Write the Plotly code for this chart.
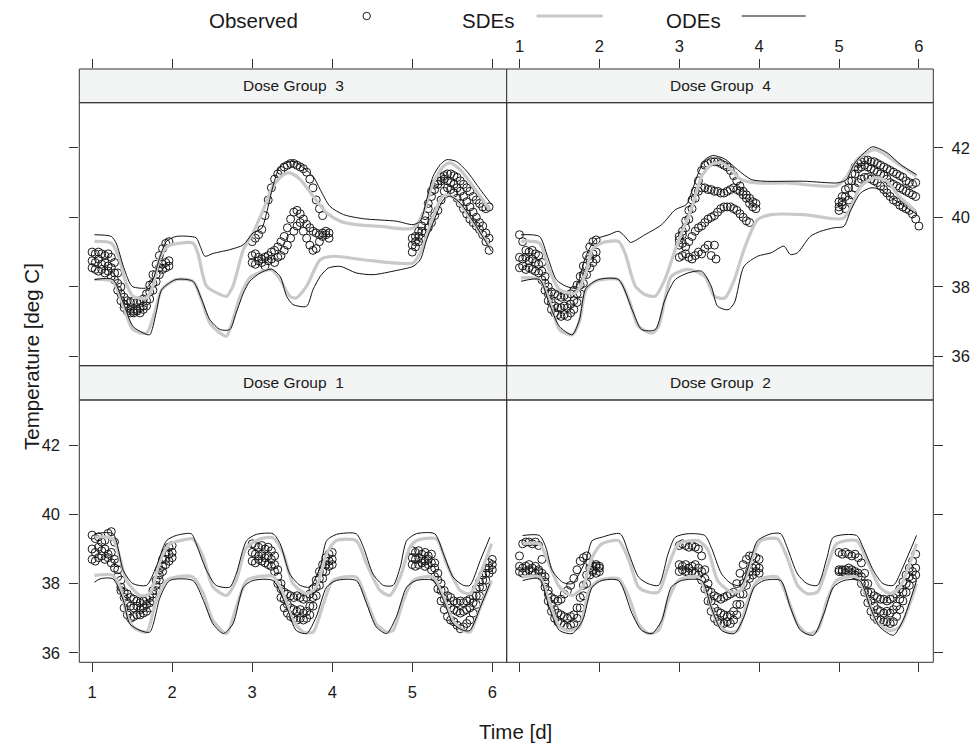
import plotly.graph_objects as go

# ---------------- data ----------------
OBS_TIME = [1.00, 1.04, 1.08, 1.12, 1.16, 1.20, 1.24, 1.28, 1.32, 1.36, 1.40, 1.44, 1.48,
            1.52, 1.56, 1.60, 1.64, 1.68, 1.72, 1.76, 1.80, 1.84, 1.88, 1.92, 1.96, 2.00,
            3.00, 3.04, 3.08, 3.12, 3.16, 3.20, 3.24, 3.28, 3.32, 3.36, 3.40, 3.44, 3.48,
            3.52, 3.56, 3.60, 3.64, 3.68, 3.72, 3.76, 3.80, 3.84, 3.88, 3.92, 3.96, 4.00,
            5.00, 5.04, 5.08, 5.12, 5.16, 5.20, 5.24, 5.28, 5.32, 5.36, 5.40, 5.44, 5.48,
            5.52, 5.56, 5.60, 5.64, 5.68, 5.72, 5.76, 5.80, 5.84, 5.88, 5.92, 5.96, 6.00]

# Dose Group 1 observed (three animals)
G1_OBS_A = [39.40, 39.30, 39.35, 39.20, 39.25, 39.45, 39.50, 39.20, 38.60, 38.10, 37.75, 37.70, 37.60,
            37.55, 37.50, 37.45, 37.50, 37.55, 37.60, 37.80, 38.10, 38.40, 38.70, 38.90, 39.05, 39.10,
            39.15, 39.10, 39.05, 39.10, 39.00, 39.05, 38.95, 38.80, 38.40, 38.00, 37.75, 37.70, 37.65,
            37.60, 37.65, 37.60, 37.55, 37.60, 37.70, 37.85, 38.10, 38.35, 38.55, 38.75, 38.85, 38.90,
            38.95, 38.90, 38.95, 38.85, 38.90, 38.80, 38.85, 38.60, 38.30, 38.00, 37.80, 37.65, 37.60,
            37.50, 37.45, 37.50, 37.45, 37.50, 37.55, 37.65, 37.85, 38.05, 38.25, 38.45, 38.60, 38.70]
G1_OBS_B = [39.00, 38.90, 39.05, 38.95, 39.00, 38.85, 38.90, 38.70, 38.40, 37.90, 37.60, 37.45, 37.35,
            37.30, 37.35, 37.25, 37.30, 37.40, 37.45, 37.70, 37.95, 38.25, 38.50, 38.70, 38.85, 38.90,
            38.90, 38.85, 38.80, 38.85, 38.75, 38.80, 38.70, 38.55, 38.20, 37.85, 37.55, 37.40, 37.30,
            37.25, 37.20, 37.25, 37.15, 37.20, 37.35, 37.60, 37.90, 38.15, 38.35, 38.55, 38.65, 38.70,
            38.75, 38.70, 38.75, 38.70, 38.65, 38.70, 38.60, 38.45, 38.10, 37.80, 37.55, 37.40, 37.30,
            37.25, 37.20, 37.15, 37.20, 37.25, 37.30, 37.45, 37.65, 37.90, 38.10, 38.30, 38.45, 38.55]
G1_OBS_C = [38.70, 38.65, 38.75, 38.80, 38.70, 38.75, 38.60, 38.45, 38.20, 37.80, 37.30, 37.10, 37.00,
            37.05, 37.10, 37.10, 37.15, 37.20, 37.30, 37.50, 37.80, 38.10, 38.35, 38.55, 38.65, 38.75,
            38.65, 38.60, 38.70, 38.65, 38.60, 38.55, 38.50, 38.35, 38.00, 37.60, 37.30, 37.15, 37.05,
            37.00, 36.95, 37.00, 36.95, 37.00, 37.10, 37.35, 37.65, 37.95, 38.15, 38.35, 38.50, 38.55,
            38.55, 38.50, 38.55, 38.60, 38.50, 38.55, 38.40, 38.20, 37.85, 37.50, 37.25, 37.05, 36.95,
            36.90, 36.80, 36.70, 36.75, 36.85, 36.95, 37.15, 37.40, 37.65, 37.90, 38.10, 38.30, 38.40]

# Dose Group 2 observed
G2_OBS_A = [38.80, 39.15, 39.20, 39.20, 39.15, 39.20, 39.10, 38.70, 38.20, 37.80, 37.60, 37.55, 37.50,
            37.55, 37.70, 37.80, 37.95, 38.15, 38.40, 38.65, 38.75, 38.80, 38.60, 38.50, 38.55, 38.50,
            39.10, 39.15, 39.10, 39.05, 39.10, 39.05, 39.00, 38.80, 38.40, 38.00, 37.75, 37.65, 37.60,
            37.55, 37.60, 37.65, 37.70, 37.75, 38.00, 38.30, 38.55, 38.70, 38.80, 38.80, 38.75, 38.70,
            38.90, 38.85, 38.90, 38.85, 38.80, 38.85, 38.75, 38.60, 38.30, 38.00, 37.75, 37.65, 37.60,
            37.55, 37.55, 37.50, 37.55, 37.60, 37.70, 37.85, 38.05, 38.25, 38.45, 38.65, 38.85, None]
G2_OBS_B = [38.50, 38.45, 38.50, 38.55, 38.45, 38.50, 38.40, 38.30, 38.05, 37.70, 37.40, 37.25, 37.15,
            37.10, 37.05, 37.00, 37.05, 37.10, 37.30, 37.60, 37.95, 38.25, 38.45, 38.40, 38.50, 38.45,
            38.55, 38.50, 38.55, 38.45, 38.50, 38.55, 38.45, 38.35, 38.15, 37.80, 37.50, 37.30, 37.20,
            37.15, 37.10, 37.05, 37.10, 37.20, 37.40, 37.70, 38.00, 38.20, 38.35, 38.45, 38.50, 38.45,
            38.40, 38.35, 38.40, 38.45, 38.40, 38.35, 38.30, 38.20, 38.00, 37.75, 37.50, 37.35, 37.25,
            37.20, 37.15, 37.20, 37.15, 37.25, 37.35, 37.55, 37.75, 38.00, 38.20, 38.35, 38.45, None]
G2_OBS_C = [38.35, 38.30, 38.35, 38.40, 38.35, 38.30, 38.35, 38.20, 37.90, 37.50, 37.20, 37.00, 36.90,
            36.85, 36.80, 36.75, 36.80, 36.85, 37.00, 37.30, 37.65, 38.00, 38.25, 38.35, 38.30, 38.35,
            38.35, 38.40, 38.35, 38.30, 38.35, 38.30, 38.25, 38.10, 37.85, 37.50, 37.20, 37.00, 36.90,
            36.85, 36.85, 36.90, 36.85, 36.95, 37.10, 37.40, 37.70, 37.95, 38.15, 38.25, 38.35, 38.30,
            38.35, 38.40, 38.30, 38.35, 38.30, 38.25, 38.20, 38.00, 37.75, 37.45, 37.20, 37.05, 36.95,
            36.95, 36.90, 36.90, 36.85, 36.90, 37.05, 37.25, 37.50, 37.75, 37.95, 38.15, 38.25, None]

# Dose Group 3 observed
G3_OBS_A = [39.00, 38.95, 39.00, 38.95, 38.90, 38.95, 38.85, 38.70, 38.40, 38.00, 37.70, 37.60, 37.55,
            37.60, 37.55, 37.60, 37.65, 37.80, 38.05, 38.35, 38.65, 38.90, 39.10, 39.25, 39.30, None,
            39.30, 39.40, 39.50, 39.65, 40.05, 40.50, 40.85, 41.10, 41.25, 41.35, 41.45, 41.50, 41.55,
            41.55, 41.50, 41.45, 41.40, 41.30, 41.10, 40.85, 40.50, 40.25, 40.05, None, None, None,
            39.40, 39.45, 39.60, 39.75, 40.05, 40.40, 40.75, 40.95, 41.05, 41.15, 41.20, 41.25, 41.25,
            41.20, 41.15, 41.05, 40.95, 40.85, 40.75, 40.60, 40.50, 40.40, 40.30, 40.25, 40.30, None]
G3_OBS_B = [38.75, 38.70, 38.80, 38.65, 38.70, 38.60, 38.55, 38.40, 38.10, 37.80, 37.50, 37.40, 37.35,
            37.30, 37.35, 37.40, 37.45, 37.60, 37.85, 38.10, 38.35, 38.55, 38.65, 38.70, 38.75, None,
            38.70, 38.65, 38.75, 38.80, 38.85, 38.90, 39.00, 39.05, 39.15, 39.30, 39.45, 39.70, 39.95,
            40.15, 40.20, 40.10, 39.95, 39.80, 39.70, 39.60, 39.55, 39.50, 39.55, 39.60, 39.55, None,
            39.20, 39.30, 39.45, 39.60, 39.90, 40.25, 40.60, 40.80, 40.95, 41.05, 41.10, 41.05, 41.00,
            40.95, 40.85, 40.75, 40.60, 40.45, 40.30, 40.15, 40.00, 39.85, 39.75, 39.55, 39.40, None]
G3_OBS_C = [38.55, 38.50, 38.45, 38.50, 38.40, 38.45, 38.30, 38.20, 37.90, 37.60, 37.40, 37.30, 37.25,
            37.25, 37.30, 37.25, 37.35, 37.45, 37.65, 37.90, 38.15, 38.35, 38.50, 38.55, 38.60, None,
            38.90, 38.95, 38.85, 38.70, 38.60, 38.75, 38.80, 38.70, 38.85, 38.90, 39.05, 39.20, 39.40,
            39.60, 39.75, 39.85, 39.60, 39.40, 39.20, 39.05, 39.10, 39.30, 39.45, 39.50, 39.40, None,
            39.00, 39.15, 39.30, 39.40, 39.55, 39.70, 39.85, 40.05, 40.20, 40.50, 40.75, 40.85, 40.80,
            40.70, 40.55, 40.40, 40.25, 40.10, 39.95, 39.85, 39.75, 39.65, 39.50, 39.30, 39.05, None]

# Dose Group 4 observed
G4_OBS_A = [39.50, 39.30, 39.05, 39.00, 39.05, 38.95, 38.90, 38.70, 38.30, 38.00, 37.85, 37.80, 37.75,
            37.70, 37.75, 37.70, 37.80, 37.90, 38.05, 38.30, 38.60, 38.90, 39.15, 39.30, 39.35, None,
            39.45, 39.60, 39.90, 40.20, 40.50, 40.75, 41.05, 41.35, 41.50, 41.55, 41.60, 41.60, 41.60,
            41.55, 41.50, 41.45, 41.35, 41.20, 41.05, 40.90, 40.75, 40.65, 40.55, 40.45, 40.40, None,
            40.45, 40.60, 40.80, 41.05, 41.25, 41.45, 41.55, 41.60, 41.65, 41.65, 41.60, 41.60, 41.55,
            41.50, 41.45, 41.40, 41.35, 41.30, 41.25, 41.20, 41.15, 41.05, 41.00, 40.95, 41.00, None]
G4_OBS_B = [38.85, 38.80, 38.85, 38.75, 38.80, 38.70, 38.65, 38.45, 38.10, 37.80, 37.55, 37.45, 37.40,
            37.40, 37.45, 37.40, 37.50, 37.60, 37.80, 38.05, 38.35, 38.60, 38.80, 38.95, 39.00, None,
            39.35, 39.50, 39.70, 39.95, 40.25, 40.55, 40.75, 40.85, 40.85, 40.80, 40.80, 40.75, 40.75,
            40.70, 40.70, 40.75, 40.80, 40.85, 40.80, 40.75, 40.65, 40.55, 40.40, 40.30, 40.25, None,
            40.30, 40.45, 40.60, 40.85, 41.05, 41.25, 41.40, 41.45, 41.50, 41.45, 41.40, 41.35, 41.30,
            41.25, 41.20, 41.10, 41.00, 40.95, 40.90, 40.85, 40.80, 40.75, 40.70, 40.65, 40.60, None]
G4_OBS_C = [38.55, 38.60, 38.50, 38.55, 38.50, 38.45, 38.40, 38.20, 37.90, 37.60, 37.35, 37.25, 37.20,
            37.15, 37.20, 37.15, 37.25, 37.35, 37.55, 37.80, 38.10, 38.35, 38.55, 38.70, 38.80, None,
            39.20, 39.25, 39.15, 39.30, 39.45, 39.60, 39.70, 39.75, 39.85, 39.95, 40.00, 40.05, 40.15,
            40.25, 40.30, 40.30, 40.30, 40.25, 40.20, 40.10, 40.00, 39.90, 39.85, None, None, None,
            40.20, 40.35, 40.25, 40.50, 40.65, 40.85, 41.00, 41.10, 41.15, 41.15, 41.10, 41.05, 41.00,
            40.90, 40.80, 40.70, 40.60, 40.50, 40.45, 40.35, 40.30, 40.25, 40.20, 40.10, 39.95, 39.75]
G4_OBS_EXTRA = [(3.00, 38.85), (3.04, 38.90), (3.08, 38.95), (3.12, 38.85), (3.16, 38.80),
                (3.20, 38.90), (3.24, 39.00), (3.28, 38.95), (3.32, 39.10), (3.36, 39.20),
                (3.40, 38.90), (3.44, 39.20), (3.46, 38.80)]

# Model curves: (time [d], temperature [deg C])
G1_SDE_UPPER = [(1.03, 39.34), (1.26, 39.29), (1.43, 38.09), (1.60, 37.66), (1.72, 37.71), (1.85, 38.67),
                (1.97, 39.15), (2.10, 39.24), (2.26, 39.29), (2.39, 38.76), (2.51, 37.90), (2.68, 37.66),
                (2.80, 38.09), (2.93, 39.05), (3.10, 39.29), (3.26, 39.32), (3.39, 38.86), (3.51, 38.00),
                (3.68, 37.71), (3.80, 37.90), (3.93, 38.86), (4.05, 39.24), (4.30, 39.24), (4.43, 38.57),
                (4.60, 37.80), (4.72, 37.66), (4.85, 38.19), (4.97, 39.05), (5.05, 39.24), (5.30, 39.29),
                (5.43, 38.57), (5.60, 37.80), (5.72, 37.71), (5.85, 38.28), (5.99, 39.15)]
G1_SDE_LOWER = [(1.03, 38.24), (1.26, 38.24), (1.35, 37.90), (1.43, 37.13), (1.51, 36.75), (1.68, 36.60),
                (1.80, 37.52), (1.93, 38.09), (2.05, 38.19), (2.26, 38.19), (2.39, 37.71), (2.51, 36.94),
                (2.68, 36.56), (2.80, 37.32), (2.93, 38.09), (3.05, 38.19), (3.26, 38.21), (3.39, 37.71),
                (3.51, 36.94), (3.64, 36.60), (3.76, 36.60), (3.89, 37.42), (4.01, 38.09), (4.30, 38.19),
                (4.43, 37.52), (4.55, 36.84), (4.68, 36.60), (4.76, 36.65), (4.89, 37.52), (5.01, 38.09),
                (5.26, 38.19), (5.39, 37.61), (5.51, 36.94), (5.64, 36.65), (5.72, 36.60), (5.85, 37.32),
                (5.99, 38.09)]
G1_ODE_UPPER = [(1.03, 39.44), (1.26, 39.44), (1.39, 38.38), (1.51, 38.00), (1.68, 37.95), (1.80, 38.48),
                (1.93, 39.24), (2.05, 39.39), (2.24, 39.44), (2.30, 39.15), (2.43, 38.38), (2.55, 37.95),
                (2.72, 37.90), (2.80, 38.28), (2.93, 39.24), (3.05, 39.42), (3.26, 39.44), (3.35, 39.15),
                (3.47, 38.28), (3.60, 37.95), (3.72, 37.90), (3.85, 38.48), (3.93, 39.24), (4.05, 39.42),
                (4.30, 39.44), (4.39, 39.05), (4.51, 38.28), (4.64, 37.95), (4.76, 37.95), (4.85, 38.48),
                (4.93, 39.24), (5.05, 39.44), (5.28, 39.44), (5.39, 38.86), (5.51, 38.19), (5.64, 37.95),
                (5.72, 37.95), (5.85, 38.67), (5.97, 39.34)]
G1_ODE_LOWER = [(1.03, 38.04), (1.10, 38.14), (1.26, 38.14), (1.39, 37.52), (1.47, 36.84), (1.60, 36.65),
                (1.72, 36.60), (1.85, 37.61), (1.97, 38.09), (2.26, 38.09), (2.39, 37.52), (2.51, 36.84),
                (2.64, 36.56), (2.76, 36.84), (2.89, 37.90), (3.01, 38.09), (3.26, 38.09), (3.43, 37.32),
                (3.55, 36.65), (3.68, 36.56), (3.80, 37.04), (3.93, 37.90), (4.05, 38.09), (4.30, 38.09),
                (4.43, 37.42), (4.55, 36.75), (4.68, 36.56), (4.80, 37.04), (4.93, 37.90), (5.05, 38.09),
                (5.26, 38.09), (5.39, 37.52), (5.51, 36.84), (5.64, 36.65), (5.72, 36.65), (5.85, 37.32),
                (5.97, 38.00)]

G2_SDE_UPPER = [(1.04, 39.15), (1.25, 39.15), (1.37, 38.57), (1.50, 37.90), (1.66, 37.66), (1.79, 37.90),
                (1.91, 38.76), (2.03, 39.15), (2.24, 39.24), (2.37, 38.67), (2.49, 37.90), (2.61, 37.76),
                (2.74, 37.76), (2.86, 38.48), (2.99, 39.15), (3.24, 39.24), (3.36, 38.96), (3.48, 38.09),
                (3.65, 37.76), (3.77, 37.80), (3.90, 38.67), (4.02, 39.24), (4.23, 39.29), (4.35, 38.76),
                (4.48, 37.95), (4.60, 37.71), (4.73, 37.76), (4.85, 38.48), (4.97, 39.15), (5.22, 39.24),
                (5.35, 38.67), (5.51, 37.90), (5.64, 37.71), (5.76, 37.90), (5.97, 39.15)]
G2_SDE_LOWER = [(1.04, 38.19), (1.25, 38.19), (1.37, 37.52), (1.50, 36.75), (1.62, 36.65), (1.75, 36.75),
                (1.87, 37.80), (1.99, 38.09), (2.24, 38.14), (2.37, 37.61), (2.49, 36.84), (2.61, 36.56),
                (2.74, 36.65), (2.86, 37.52), (2.99, 38.09), (3.24, 38.19), (3.36, 37.61), (3.48, 36.84),
                (3.61, 36.60), (3.73, 36.65), (3.86, 37.52), (3.98, 38.09), (4.23, 38.19), (4.35, 37.61),
                (4.48, 36.84), (4.60, 36.56), (4.73, 36.65), (4.85, 37.52), (4.97, 38.09), (5.22, 38.19),
                (5.35, 37.61), (5.47, 36.89), (5.64, 36.65), (5.76, 36.75), (5.97, 38.00)]
G2_ODE_UPPER = [(1.04, 39.39), (1.25, 39.39), (1.33, 39.05), (1.41, 38.38), (1.54, 38.04), (1.66, 38.00),
                (1.83, 38.67), (1.91, 39.24), (2.03, 39.34), (2.26, 39.44), (2.37, 38.86), (2.49, 38.19),
                (2.61, 38.00), (2.74, 37.95), (2.86, 38.86), (2.95, 39.34), (3.11, 39.44), (3.32, 39.39),
                (3.40, 39.05), (3.53, 38.28), (3.65, 38.00), (3.77, 37.95), (3.90, 38.76), (3.98, 39.24),
                (4.15, 39.44), (4.27, 39.44), (4.35, 39.05), (4.48, 38.28), (4.60, 38.00), (4.73, 37.95),
                (4.85, 38.76), (4.93, 39.34), (5.22, 39.39), (5.30, 39.05), (5.43, 38.38), (5.55, 38.00),
                (5.68, 37.95), (5.80, 38.48), (5.97, 39.39)]
G2_ODE_LOWER = [(1.04, 38.09), (1.25, 38.14), (1.37, 37.32), (1.50, 36.65), (1.66, 36.56), (1.79, 36.94),
                (1.91, 37.90), (2.03, 38.09), (2.24, 38.09), (2.41, 37.13), (2.53, 36.65), (2.66, 36.56),
                (2.78, 36.94), (2.90, 37.90), (3.03, 38.09), (3.28, 38.09), (3.40, 37.32), (3.53, 36.65),
                (3.69, 36.56), (3.81, 37.04), (3.94, 37.90), (4.06, 38.09), (4.27, 38.09), (4.39, 37.32),
                (4.52, 36.65), (4.68, 36.51), (4.81, 37.13), (4.93, 37.90), (5.06, 38.09), (5.26, 38.09),
                (5.39, 37.32), (5.51, 36.75), (5.68, 36.51), (5.80, 36.94), (5.97, 38.09)]

G3_SDE_UPPER = [(1.03, 39.31), (1.24, 39.26), (1.33, 38.88), (1.41, 38.21), (1.51, 37.73), (1.68, 37.68),
                (1.76, 38.02), (1.85, 38.88), (1.95, 39.17), (2.10, 39.26), (2.26, 39.26), (2.32, 38.98),
                (2.43, 38.02), (2.60, 37.78), (2.68, 37.73), (2.76, 38.02), (2.89, 39.07), (3.01, 39.55),
                (3.14, 40.22), (3.26, 40.89), (3.39, 41.23), (3.47, 41.28), (3.60, 41.09), (3.76, 40.61),
                (3.93, 40.13), (4.10, 39.89), (4.30, 39.79), (4.60, 39.74), (5.01, 39.69), (5.14, 40.13),
                (5.26, 40.99), (5.39, 41.47), (5.47, 41.57), (5.60, 41.37), (5.76, 40.89), (5.97, 40.22)]
G3_SDE_LOWER = [(1.03, 38.21), (1.26, 38.16), (1.39, 37.44), (1.51, 36.77), (1.68, 36.67), (1.78, 37.25),
                (1.87, 37.92), (2.05, 38.21), (2.26, 38.16), (2.35, 37.73), (2.47, 36.96), (2.60, 36.67),
                (2.68, 36.58), (2.76, 37.06), (2.85, 37.73), (2.97, 38.26), (3.10, 38.42), (3.24, 38.50),
                (3.35, 38.21), (3.47, 37.73), (3.55, 37.68), (3.68, 38.02), (3.85, 38.78), (4.01, 38.88),
                (4.39, 38.78), (5.01, 38.69), (5.10, 38.98), (5.22, 39.74), (5.35, 40.51), (5.43, 40.65),
                (5.55, 40.51), (5.76, 39.84), (5.97, 39.17)]
G3_ODE_UPPER = [(1.03, 39.50), (1.24, 39.45), (1.30, 39.26), (1.39, 38.59), (1.47, 38.11), (1.51, 38.00),
                (1.68, 37.97), (1.76, 38.21), (1.85, 38.88), (1.93, 39.31), (2.05, 39.45), (2.30, 39.41),
                (2.35, 39.17), (2.41, 38.88), (2.51, 38.96), (2.72, 39.07), (2.89, 39.21), (3.01, 39.55),
                (3.12, 39.69), (3.18, 40.13), (3.26, 40.89), (3.35, 41.47), (3.51, 41.61), (3.76, 41.18),
                (3.85, 40.80), (3.97, 40.32), (4.14, 40.08), (4.39, 39.96), (4.80, 39.89), (5.01, 39.79),
                (5.10, 39.89), (5.18, 40.51), (5.26, 41.18), (5.35, 41.52), (5.43, 41.66), (5.55, 41.61),
                (5.68, 41.33), (5.85, 40.80), (5.99, 40.37)]
G3_ODE_LOWER = [(1.03, 38.21), (1.26, 38.21), (1.39, 37.54), (1.51, 36.86), (1.64, 36.67), (1.72, 36.62),
                (1.80, 37.25), (1.87, 37.92), (2.05, 38.21), (2.26, 38.16), (2.37, 37.63), (2.47, 37.06),
                (2.60, 36.77), (2.72, 36.77), (2.80, 37.25), (2.89, 37.82), (2.97, 38.16), (3.10, 38.40),
                (3.24, 38.51), (3.35, 38.30), (3.43, 37.73), (3.51, 37.49), (3.68, 37.44), (3.76, 37.92),
                (3.85, 38.30), (3.95, 38.54), (4.10, 38.59), (4.30, 38.40), (4.51, 38.35), (4.80, 38.47),
                (5.01, 38.59), (5.10, 38.78), (5.18, 39.36), (5.26, 39.84), (5.39, 40.51), (5.47, 40.61),
                (5.60, 40.41), (5.80, 39.74), (5.99, 39.02)]

G4_SDE_UPPER = [(1.02, 39.31), (1.25, 39.26), (1.37, 38.50), (1.50, 37.92), (1.70, 37.82), (1.83, 38.40),
                (1.91, 39.07), (2.03, 39.26), (2.24, 39.31), (2.32, 38.98), (2.45, 38.02), (2.57, 37.78),
                (2.70, 37.73), (2.82, 38.21), (2.95, 39.07), (3.03, 39.55), (3.15, 40.22), (3.28, 41.18),
                (3.40, 41.52), (3.53, 41.57), (3.65, 41.37), (3.77, 41.09), (3.98, 40.99), (4.35, 40.99),
                (4.97, 40.91), (5.10, 41.18), (5.22, 41.65), (5.44, 41.95), (5.55, 41.85), (5.72, 41.57),
                (5.97, 41.18)]
G4_SDE_LOWER = [(1.02, 38.26), (1.25, 38.21), (1.37, 37.63), (1.50, 36.77), (1.66, 36.62), (1.75, 37.00),
                (1.83, 37.90), (1.95, 38.16), (2.24, 38.21), (2.37, 37.63), (2.49, 36.86), (2.66, 36.67),
                (2.74, 36.86), (2.82, 37.63), (2.90, 38.30), (3.11, 38.50), (3.32, 38.30), (3.44, 37.73),
                (3.57, 37.68), (3.69, 38.21), (3.81, 39.07), (3.98, 39.93), (4.15, 40.08), (4.56, 40.08),
                (5.06, 39.98), (5.27, 40.89), (5.44, 41.14), (5.60, 41.04), (5.75, 40.61), (5.96, 40.18)]
G4_ODE_UPPER = [(1.02, 39.50), (1.25, 39.45), (1.35, 38.88), (1.46, 38.21), (1.58, 38.02), (1.70, 37.97),
                (1.83, 38.88), (1.95, 39.36), (2.12, 39.50), (2.24, 39.60), (2.32, 39.45), (2.39, 39.28),
                (2.57, 39.50), (2.78, 39.79), (2.95, 40.22), (3.09, 40.37), (3.15, 40.70), (3.24, 41.28),
                (3.32, 41.66), (3.42, 41.78), (3.57, 41.68), (3.73, 41.37), (3.90, 41.09), (4.06, 41.04),
                (4.56, 41.04), (4.97, 40.99), (5.06, 41.04), (5.10, 41.10), (5.18, 41.50), (5.27, 41.76),
                (5.42, 42.03), (5.60, 41.86), (5.77, 41.52), (5.97, 41.23)]
G4_ODE_LOWER = [(1.02, 38.16), (1.25, 38.21), (1.37, 37.54), (1.50, 36.86), (1.66, 36.62), (1.75, 37.05),
                (1.83, 37.95), (1.99, 38.21), (2.24, 38.21), (2.41, 37.34), (2.53, 36.77), (2.70, 36.77),
                (2.82, 37.63), (2.95, 38.21), (3.11, 38.40), (3.28, 38.45), (3.40, 38.02), (3.48, 37.44),
                (3.61, 37.34), (3.69, 37.54), (3.81, 38.59), (3.98, 38.88), (4.15, 38.98), (4.31, 39.17),
                (4.39, 38.93), (4.48, 38.98), (4.64, 39.45), (4.77, 39.60), (4.94, 39.70), (5.06, 39.74),
                (5.15, 40.22), (5.27, 40.70), (5.40, 40.85), (5.52, 40.80), (5.69, 40.51), (5.98, 40.08)]

GROUP_LABELS = ["Dose Group  1", "Dose Group  2", "Dose Group  3", "Dose Group  4"]
X_TICKS = [1, 2, 3, 4, 5, 6]
Y_TICKS = [36, 38, 40, 42]
LEGEND_LABELS = ["Observed", "SDEs", "ODEs"]
X_TITLE = "Time [d]"
Y_TITLE = "Temperature [deg C]"

for name, arr in [("G1A", G1_OBS_A), ("G1B", G1_OBS_B), ("G1C", G1_OBS_C),
                  ("G2A", G2_OBS_A), ("G2B", G2_OBS_B), ("G2C", G2_OBS_C),
                  ("G3A", G3_OBS_A), ("G3B", G3_OBS_B), ("G3C", G3_OBS_C),
                  ("G4A", G4_OBS_A), ("G4B", G4_OBS_B), ("G4C", G4_OBS_C)]:
    if len(arr) != len(OBS_TIME):
        raise ValueError(f"{name}: {len(arr)} vs {len(OBS_TIME)}")

# ---------------- layout geometry ----------------
W, H = 970, 744
def fx(px): return px / W
def fy(py): return 1 - py / H

X_RANGE = [0.84, 6.18]
Y_RANGE = [35.73, 43.30]
LEFT = [fx(79.3), fx(506.7)]
RIGHT = [fx(506.7), fx(933.3)]
TOP_PANEL = [fy(365.7), fy(102.7)]
TOP_STRIP = [fy(102.7), fy(69.0)]
BOT_PANEL = [fy(662.3), fy(400.0)]
BOT_STRIP = [fy(400.0), fy(365.7)]

FONT = "Liberation Sans, Arial, Helvetica, sans-serif"
INK = "#1a1a1a"
SDE_COLOR = "#c9c9c9"
ODE_COLOR = "#111111"
STRIP_FILL = "#f3f4f4"
TICK_FONT = dict(family=FONT, size=16.5, color=INK)

# group -> (panel axis index, xdomain, ydomain, strip axis index, strip ydomain)
PANELS = {
    1: (1, LEFT, BOT_PANEL, 7, BOT_STRIP),
    2: (2, RIGHT, BOT_PANEL, 8, BOT_STRIP),
    3: (3, LEFT, TOP_PANEL, 5, TOP_STRIP),
    4: (4, RIGHT, TOP_PANEL, 6, TOP_STRIP),
}
OBS = {1: [G1_OBS_A, G1_OBS_B, G1_OBS_C], 2: [G2_OBS_A, G2_OBS_B, G2_OBS_C],
       3: [G3_OBS_A, G3_OBS_B, G3_OBS_C], 4: [G4_OBS_A, G4_OBS_B, G4_OBS_C]}
CURVES = {1: (G1_SDE_UPPER, G1_SDE_LOWER, G1_ODE_UPPER, G1_ODE_LOWER),
          2: (G2_SDE_UPPER, G2_SDE_LOWER, G2_ODE_UPPER, G2_ODE_LOWER),
          3: (G3_SDE_UPPER, G3_SDE_LOWER, G3_ODE_UPPER, G3_ODE_LOWER),
          4: (G4_SDE_UPPER, G4_SDE_LOWER, G4_ODE_UPPER, G4_ODE_LOWER)}

def ax(i, kind):
    return kind if i == 1 else f"{kind}{i}"

fig = go.Figure()
marker = dict(symbol="circle-open", size=8, color=INK, line=dict(width=1, color=INK))

for g, (i, xd, yd, s, sd) in PANELS.items():
    xa, ya = ax(i, "x"), ax(i, "y")
    for series in OBS[g]:
        fig.add_trace(go.Scatter(x=OBS_TIME, y=series, mode="markers", marker=marker,
                                 xaxis=xa, yaxis=ya, showlegend=False, hoverinfo="skip"))
    if g == 4:
        fig.add_trace(go.Scatter(x=[p[0] for p in G4_OBS_EXTRA], y=[p[1] for p in G4_OBS_EXTRA],
                                 mode="markers", marker=marker, xaxis=xa, yaxis=ya,
                                 showlegend=False, hoverinfo="skip"))
    sde_u, sde_l, ode_u, ode_l = CURVES[g]
    for curve in (sde_u, sde_l):
        fig.add_trace(go.Scatter(x=[p[0] for p in curve], y=[p[1] for p in curve], mode="lines",
                                 line=dict(color=SDE_COLOR, width=3.2, shape="spline", smoothing=0.7),
                                 xaxis=xa, yaxis=ya, showlegend=False, hoverinfo="skip"))
    for curve in (ode_u, ode_l):
        fig.add_trace(go.Scatter(x=[p[0] for p in curve], y=[p[1] for p in curve], mode="lines",
                                 line=dict(color=ODE_COLOR, width=1.0, shape="spline", smoothing=0.7),
                                 xaxis=xa, yaxis=ya, showlegend=False, hoverinfo="skip"))
    # invisible anchor for the strip subplot
    fig.add_trace(go.Scatter(x=[3], y=[0.5], mode="markers", marker=dict(opacity=0),
                             xaxis=ax(s, "x"), yaxis=ax(s, "y"), showlegend=False, hoverinfo="skip"))

layout = dict(width=W, height=H, margin=dict(l=0, r=0, t=0, b=0), autosize=False,
              paper_bgcolor="white", plot_bgcolor="white", template="none",
              font=dict(family=FONT, color=INK), showlegend=False)

common_x = dict(range=X_RANGE, tickvals=X_TICKS, showgrid=False, zeroline=False, showline=False,
                ticklen=9, tickwidth=1, tickcolor="#333333", tickfont=TICK_FONT,
                automargin=False, fixedrange=True)
common_y = dict(range=Y_RANGE, tickvals=Y_TICKS, showgrid=False, zeroline=False, showline=False,
                ticklen=9, tickwidth=1, tickcolor="#333333", tickfont=TICK_FONT,
                automargin=False, fixedrange=True)

# bottom-left (G1)
layout["xaxis"] = dict(common_x, domain=LEFT, anchor="y", side="bottom", ticks="outside",
                       showticklabels=True, ticklabelstandoff=6)
layout["yaxis"] = dict(common_y, domain=BOT_PANEL, anchor="x", side="left", ticks="outside",
                       showticklabels=True, ticklabelstandoff=6)
# bottom-right (G2)
layout["xaxis2"] = dict(common_x, domain=RIGHT, anchor="y2", side="bottom", ticks="outside",
                        showticklabels=False)
layout["yaxis2"] = dict(common_y, domain=BOT_PANEL, anchor="x2", side="right", ticks="outside",
                        showticklabels=False)
# top-left (G3)
layout["xaxis3"] = dict(common_x, domain=LEFT, anchor="y3", ticks="", showticklabels=False)
layout["yaxis3"] = dict(common_y, domain=TOP_PANEL, anchor="x3", side="left", ticks="outside",
                        showticklabels=False)
# top-right (G4)
layout["xaxis4"] = dict(common_x, domain=RIGHT, anchor="y4", ticks="", showticklabels=False)
layout["yaxis4"] = dict(common_y, domain=TOP_PANEL, anchor="x4", side="right", ticks="outside",
                        showticklabels=True, ticklabelstandoff=5)
# strips
layout["xaxis5"] = dict(common_x, domain=LEFT, anchor="y5", side="top", ticks="outside",
                        showticklabels=False)
layout["xaxis6"] = dict(common_x, domain=RIGHT, anchor="y6", side="top", ticks="outside",
                        showticklabels=True, ticklabelstandoff=0)
layout["xaxis7"] = dict(common_x, domain=LEFT, anchor="y7", visible=False)
layout["xaxis8"] = dict(common_x, domain=RIGHT, anchor="y8", visible=False)
for k, d in ((5, TOP_STRIP), (6, TOP_STRIP), (7, BOT_STRIP), (8, BOT_STRIP)):
    layout[f"yaxis{k}"] = dict(domain=d, range=[0, 1], visible=False, fixedrange=True,
                               anchor=f"x{k}")

shapes = []
annotations = []
for g, (i, xd, yd, s, sd) in PANELS.items():
    xa, ya = ax(i, "x"), ax(i, "y")
    xs, ys = ax(s, "x"), ax(s, "y")
    shapes.append(dict(type="rect", xref=f"{xs} domain", yref=f"{ys} domain", x0=0, x1=1, y0=0, y1=1,
                       fillcolor=STRIP_FILL, line=dict(color="#333333", width=1), layer="below"))
    shapes.append(dict(type="rect", xref=f"{xa} domain", yref=f"{ya} domain", x0=0, x1=1, y0=0, y1=1,
                       fillcolor="rgba(0,0,0,0)", line=dict(color="#333333", width=1), layer="above"))
    annotations.append(dict(text=GROUP_LABELS[g - 1].replace("  ", "\u00a0 "), xref=f"{xs} domain",
                            yref=f"{ys} domain", x=0.5, y=0.5, showarrow=False,
                            font=dict(family=FONT, size=15.5, color=INK),
                            xanchor="center", yanchor="middle"))

# legend key (text + glyph)
TITLE_FONT = dict(family=FONT, size=20.5, color=INK)
annotations.append(dict(text=LEGEND_LABELS[0], xref="paper", yref="paper", x=fx(253), y=fy(21),
                        showarrow=False, font=TITLE_FONT, xanchor="center", yanchor="middle"))
annotations.append(dict(text=LEGEND_LABELS[1], xref="paper", yref="paper", x=fx(488.4), y=fy(21),
                        showarrow=False, font=TITLE_FONT, xanchor="center", yanchor="middle"))
annotations.append(dict(text=LEGEND_LABELS[2], xref="paper", yref="paper", x=fx(693.4), y=fy(21),
                        showarrow=False, font=TITLE_FONT, xanchor="center", yanchor="middle"))
shapes.append(dict(type="circle", xref="paper", yref="paper", x0=fx(366.7 - 3.7), x1=fx(366.7 + 3.7),
                   y0=fy(16 + 3.7), y1=fy(16 - 3.7), line=dict(color=INK, width=1)))
shapes.append(dict(type="line", xref="paper", yref="paper", x0=fx(536.7), x1=fx(602.7),
                   y0=fy(16), y1=fy(16), line=dict(color=SDE_COLOR, width=3.2)))
shapes.append(dict(type="line", xref="paper", yref="paper", x0=fx(741.7), x1=fx(805.7),
                   y0=fy(16), y1=fy(16), line=dict(color=ODE_COLOR, width=1)))

# axis titles
annotations.append(dict(text=X_TITLE, xref="paper", yref="paper", x=fx(515), y=fy(731),
                        showarrow=False, font=TITLE_FONT, xanchor="center", yanchor="middle"))
annotations.append(dict(text=Y_TITLE, xref="paper", yref="paper", x=fx(31), y=fy(357),
                        showarrow=False, font=TITLE_FONT, xanchor="center", yanchor="middle",
                        textangle=-90))

layout["shapes"] = shapes
layout["annotations"] = annotations
fig.update_layout(**layout)
fig.write_html("out.html", config={"displayModeBar": False, "staticPlot": True},
               post_script="document.body.style.margin='0px';document.body.style.padding='0px';")
